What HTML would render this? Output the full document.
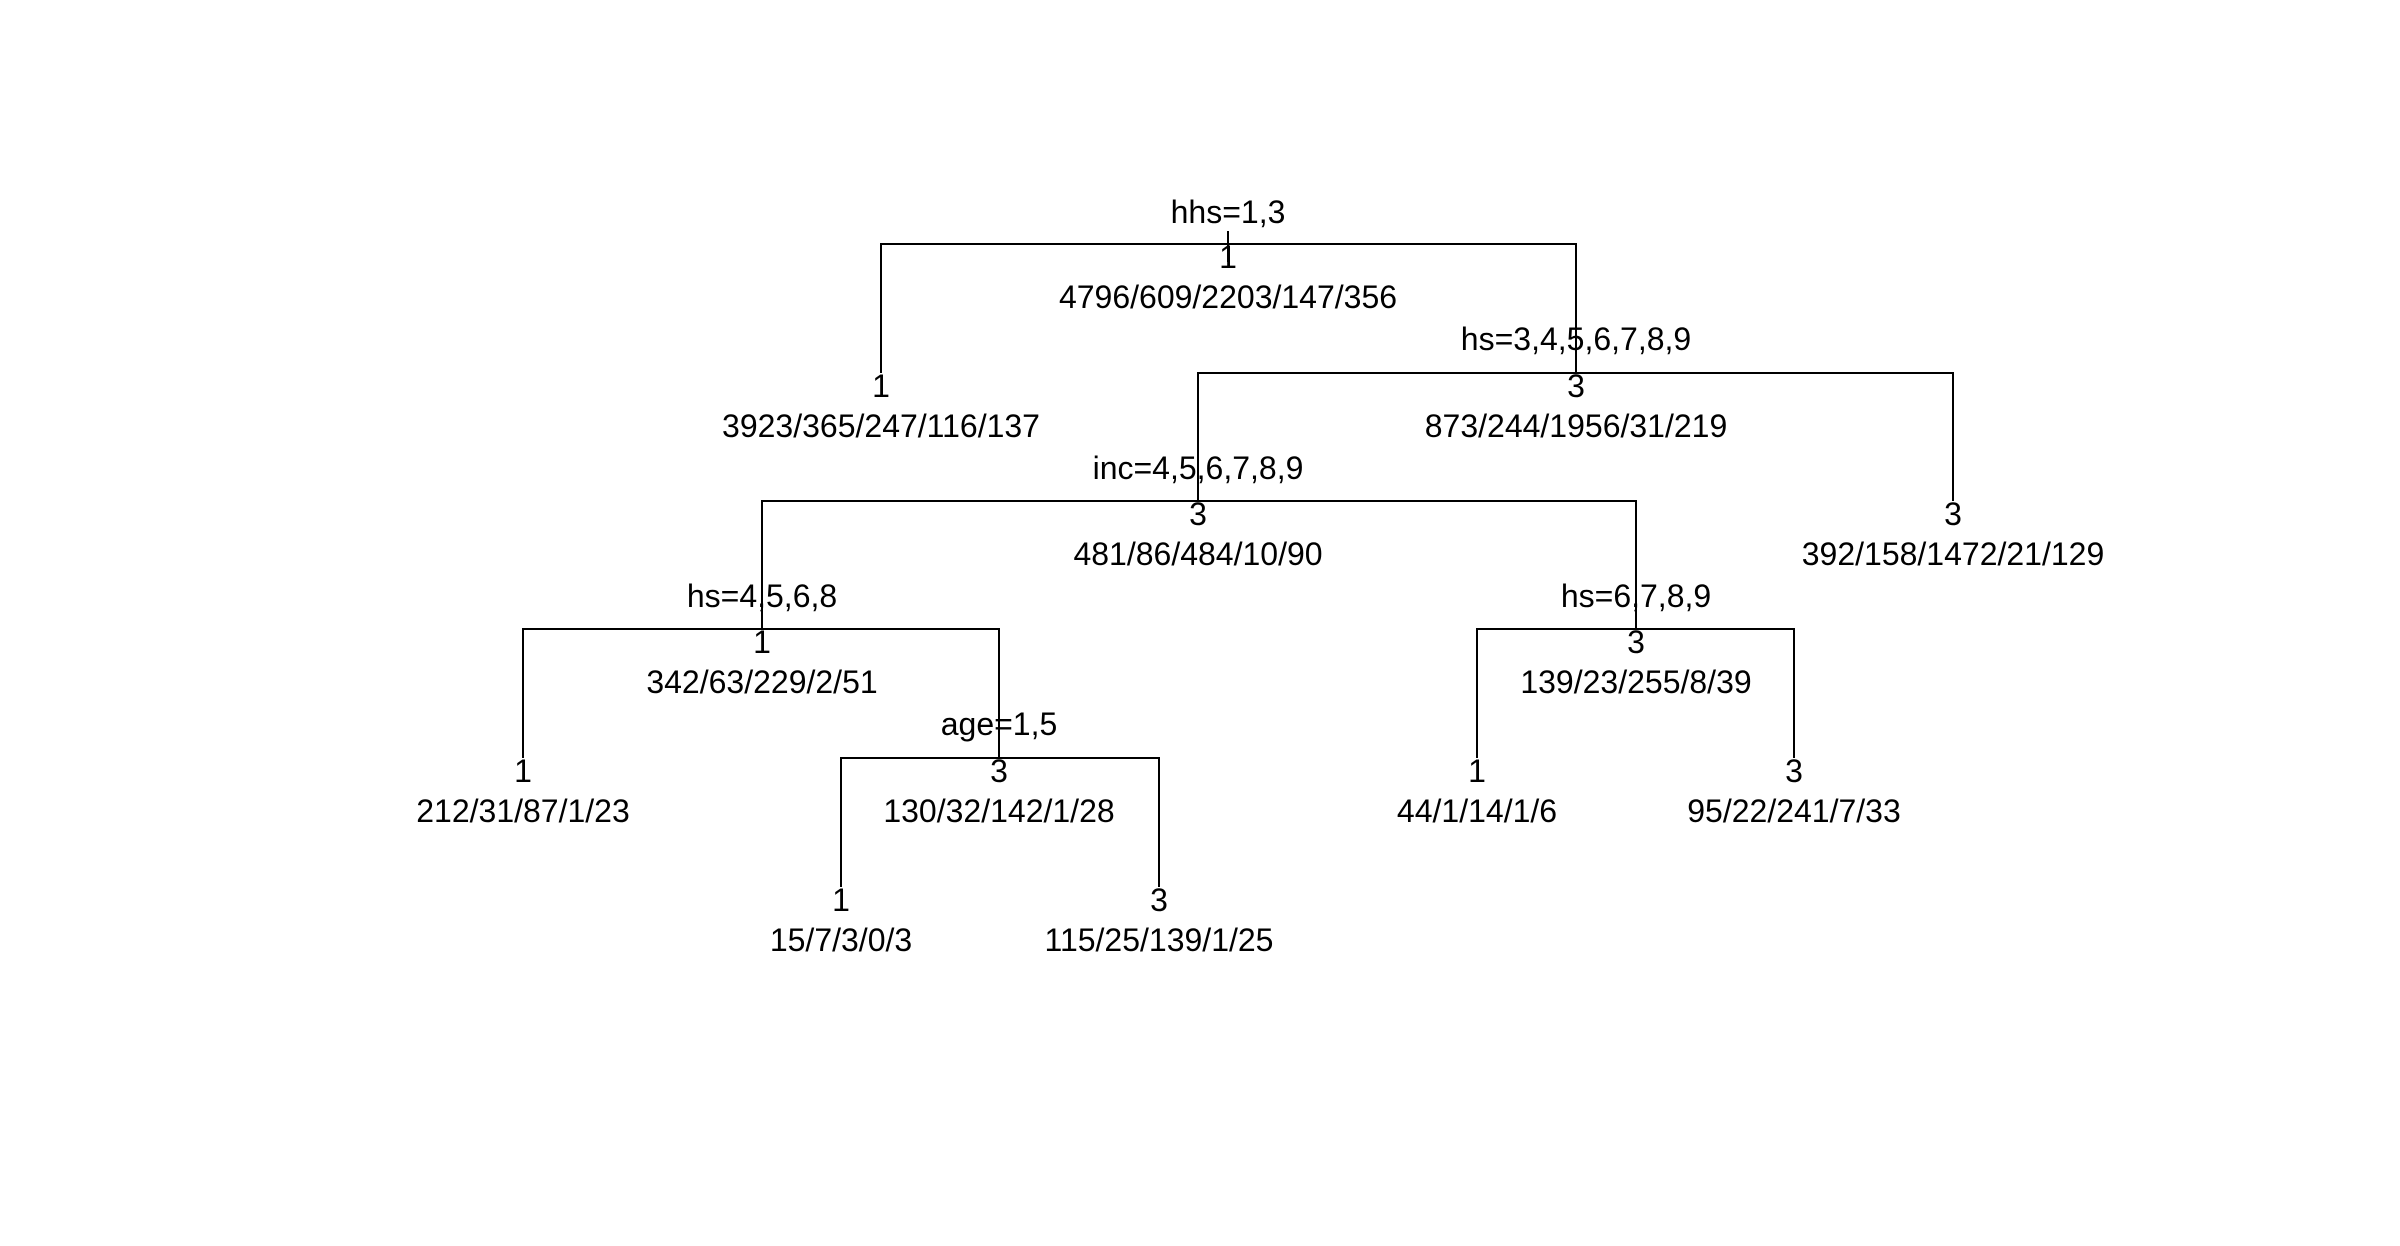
<!DOCTYPE html>
<html><head><meta charset="utf-8"><style>html,body{margin:0;padding:0;background:#fff}svg{display:block}</style></head>
<body>
<svg width="2400" height="1246" viewBox="0 0 2400 1246" xmlns="http://www.w3.org/2000/svg">
<g stroke="#000" stroke-width="2" fill="none">
<path d="M1228 231V262 M881 373V244H1576V373"/>
<path d="M1198 501V373H1953V501"/>
<path d="M762 629V501H1636V629"/>
<path d="M523 758V629H999V758"/>
<path d="M841 887V758H1159V887"/>
<path d="M1477 758V629H1794V758"/>
</g>
<g font-family="Liberation Sans, Arial, sans-serif" font-size="32" text-anchor="middle" fill="#000">
<text x="1228" y="223">hhs=1,3</text>
<text x="1228" y="268">1</text>
<text x="1228" y="308">4796/609/2203/147/356</text>
<text x="1576" y="350">hs=3,4,5,6,7,8,9</text>
<text x="881" y="397">1</text>
<text x="881" y="437">3923/365/247/116/137</text>
<text x="1576" y="397">3</text>
<text x="1576" y="437">873/244/1956/31/219</text>
<text x="1198" y="479">inc=4,5,6,7,8,9</text>
<text x="1198" y="525">3</text>
<text x="1198" y="565">481/86/484/10/90</text>
<text x="1953" y="525">3</text>
<text x="1953" y="565">392/158/1472/21/129</text>
<text x="762" y="607">hs=4,5,6,8</text>
<text x="762" y="653">1</text>
<text x="762" y="693">342/63/229/2/51</text>
<text x="1636" y="607">hs=6,7,8,9</text>
<text x="1636" y="653">3</text>
<text x="1636" y="693">139/23/255/8/39</text>
<text x="999" y="735">age=1,5</text>
<text x="523" y="782">1</text>
<text x="523" y="822">212/31/87/1/23</text>
<text x="999" y="782">3</text>
<text x="999" y="822">130/32/142/1/28</text>
<text x="1477" y="782">1</text>
<text x="1477" y="822">44/1/14/1/6</text>
<text x="1794" y="782">3</text>
<text x="1794" y="822">95/22/241/7/33</text>
<text x="841" y="911">1</text>
<text x="841" y="951">15/7/3/0/3</text>
<text x="1159" y="911">3</text>
<text x="1159" y="951">115/25/139/1/25</text>
</g>
</svg>
</body></html>
